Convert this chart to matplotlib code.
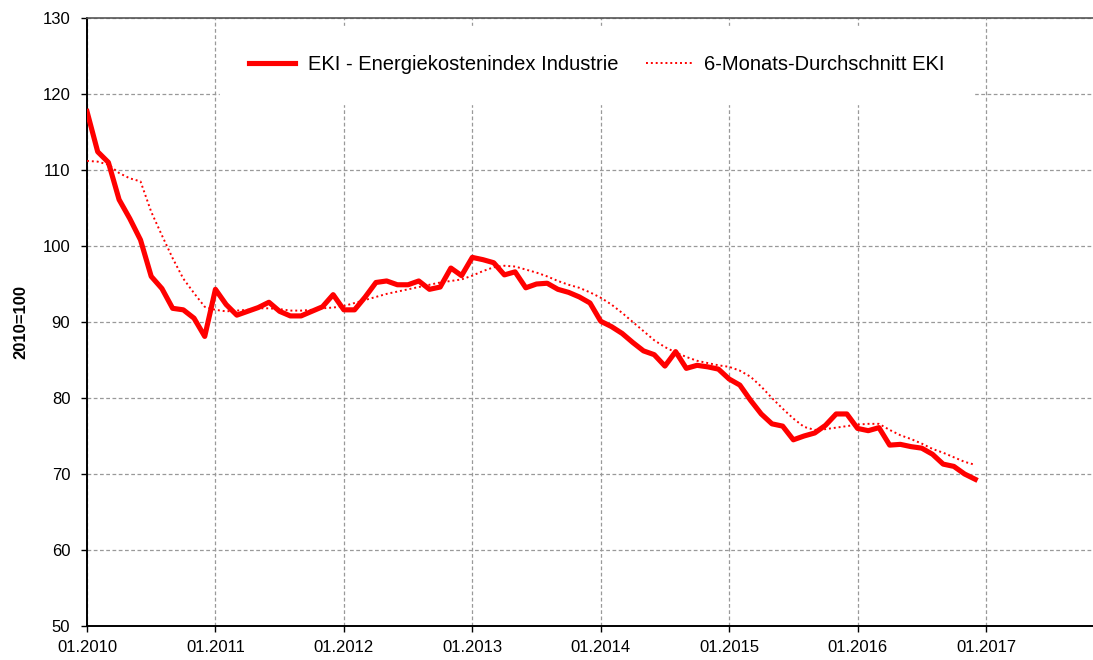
import matplotlib
matplotlib.use("Agg")
import matplotlib.pyplot as plt

plt.rcParams['font.family'] = ['Liberation Sans', 'DejaVu Sans']

# Monthly values from 01.2010 to 12.2016
eki = [117.7, 112.4, 111.0, 106.1, 103.6, 100.8, 96.0, 94.4, 91.8, 91.6, 90.5, 88.1,
       94.3, 92.3, 90.9, 91.4, 91.9, 92.6, 91.4, 90.8, 90.8, 91.4, 92.0, 93.6,
       91.6, 91.6, 93.3, 95.2, 95.4, 94.9, 94.9, 95.4, 94.3, 94.6, 97.1, 96.1,
       98.5, 98.2, 97.8, 96.2, 96.6, 94.5, 95.0, 95.1, 94.3, 93.9, 93.3, 92.5,
       90.1, 89.4, 88.5, 87.3, 86.2, 85.7, 84.2, 86.1, 83.9, 84.3, 84.1, 83.8,
       82.5, 81.7, 79.7, 77.9, 76.6, 76.3, 74.5, 75.0, 75.4, 76.4, 77.9, 77.9,
       76.0, 75.7, 76.1, 73.8, 73.9, 73.6, 73.4, 72.6, 71.3, 71.0, 70.0, 69.3]

avg6 = [111.2, 111.1, 110.7, 109.6, 108.9, 108.5, 104.5, 101.4, 98.4, 95.7, 93.8, 92.0,
        91.6, 91.4, 91.5, 91.6, 91.8, 91.8, 91.7, 91.5, 91.5, 91.6, 91.8, 91.9,
        92.1, 92.5, 92.9, 93.3, 93.7, 94.0, 94.3, 94.6, 94.9, 95.2, 95.4, 95.6,
        96.1, 96.7, 97.2, 97.4, 97.3, 96.9, 96.5, 96.0, 95.4, 94.9, 94.5, 93.9,
        93.2, 92.3, 91.2, 90.0, 88.8, 87.6, 86.7, 86.0, 85.4, 84.9, 84.6, 84.3,
        84.1, 83.6, 82.8, 81.5, 80.0, 78.6, 77.3, 76.2, 75.8, 75.9, 76.1, 76.3,
        76.5, 76.6, 76.6, 75.8, 75.1, 74.6, 74.0, 73.3, 72.8, 72.2, 71.6, 71.2]

tick_labels = ['01.2010', '01.2011', '01.2012', '01.2013', '01.2014',
               '01.2015', '01.2016', '01.2017']
legend_labels = ['EKI - Energiekostenindex Industrie', '6-Monats-Durchschnitt EKI']
ylabel = '2010=100'

months = list(range(len(eki)))

fig = plt.figure(figsize=(10.93, 6.60), dpi=100)
ax = fig.add_axes([87/1093, 34/660, (1093-87)/1093, (626-18)/660])

ax.plot(months, eki, color='#ff0000', lw=3.7, solid_joinstyle='round',
        label=legend_labels[0], zorder=3)
ax.plot(months, avg6, color='#ff0000', lw=1.4, ls=(0, (1, 1.5)),
        label=legend_labels[1], zorder=3)

ax.set_xlim(0, 94)
ax.set_ylim(50, 130)
ax.set_xticks([12*i for i in range(len(tick_labels))])
ax.set_xticklabels(tick_labels)
ax.set_yticks(range(50, 131, 10))
ax.tick_params(axis='both', labelsize=12, direction='out', length=4, width=1,
               color='black', labelcolor='black')
ax.tick_params(axis='x', pad=6)
ax.tick_params(axis='y', pad=8)

ax.grid(True, color='#999999', ls=(0, (3, 2)), lw=0.9, zorder=1)
ax.set_axisbelow(True)

for s in ['left', 'bottom']:
    ax.spines[s].set_color('black')
    ax.spines[s].set_linewidth(1.4)
ax.spines['top'].set_color('#555555')
ax.spines['top'].set_linewidth(1.2)
ax.spines['right'].set_visible(False)

ax.set_ylabel(ylabel, fontsize=12, fontweight='bold', labelpad=10)

leg = ax.legend(loc='center', bbox_to_anchor=(0.507, 0.923), ncol=2,
                fontsize=14.5, frameon=True, fancybox=False, framealpha=1,
                facecolor='white', edgecolor='white', borderpad=1.45,
                handlelength=2.3, handletextpad=0.62, columnspacing=1.35)
leg.set_zorder(5)

fig.savefig('out.png', dpi=100)
